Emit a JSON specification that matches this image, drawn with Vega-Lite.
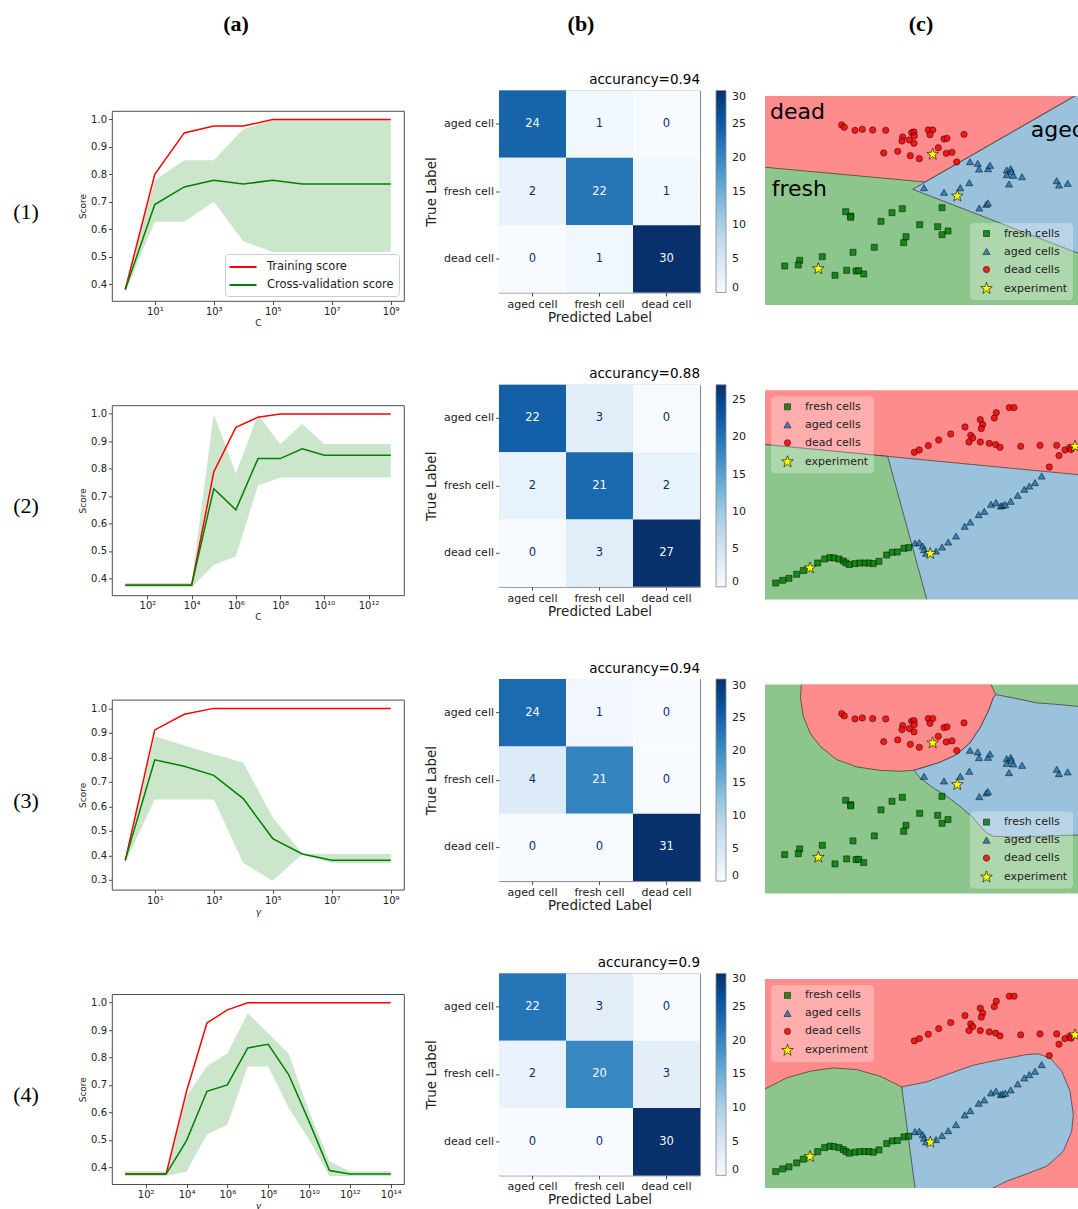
{
  "$schema": "https://vega.github.io/schema/vega-lite/v6.json",
  "background": "white",
  "padding": {"left": 12, "top": 12, "right": 0, "bottom": 0},
  "spacing": 18,
  "config": {
    "font": "DejaVu Sans",
    "view": {"stroke": null},
    "axis": {"grid": false, "domain": false, "tickSize": 3.5, "tickColor": "#222", "tickWidth": 0.8, "labelColor": "#222", "titleColor": "#222", "titleFontWeight": "normal", "labelFlush": false, "labelOverlap": false, "labelFont": "DejaVu Sans", "titleFont": "DejaVu Sans"},
    "title": {"color": "black", "fontWeight": "normal"}
  },
  "datasets": {
    "curve1": [
      {"x": 1, "train": 0.38, "cv": 0.38, "lo": 0.37, "hi": 0.39},
      {"x": 10, "train": 0.8, "cv": 0.69, "lo": 0.627, "hi": 0.778},
      {"x": 100, "train": 0.951, "cv": 0.754, "lo": 0.627, "hi": 0.851},
      {"x": 1000, "train": 0.976, "cv": 0.778, "lo": 0.7, "hi": 0.851},
      {"x": 10000, "train": 0.976, "cv": 0.765, "lo": 0.556, "hi": 0.965},
      {"x": 100000, "train": 1, "cv": 0.778, "lo": 0.517, "hi": 0.998},
      {"x": 1000000, "train": 1, "cv": 0.765, "lo": 0.517, "hi": 0.998},
      {"x": 10000000, "train": 1, "cv": 0.765, "lo": 0.517, "hi": 0.998},
      {"x": 100000000, "train": 1, "cv": 0.765, "lo": 0.517, "hi": 0.998},
      {"x": 1000000000, "train": 1, "cv": 0.765, "lo": 0.517, "hi": 0.998}
    ],
    "curve2": [
      {"x": 1e1, "train": 0.375, "cv": 0.375, "lo": 0.368, "hi": 0.383},
      {"x": 1e2, "train": 0.375, "cv": 0.375, "lo": 0.368, "hi": 0.383},
      {"x": 1e3, "train": 0.375, "cv": 0.375, "lo": 0.368, "hi": 0.383},
      {"x": 1e4, "train": 0.375, "cv": 0.375, "lo": 0.368, "hi": 0.383},
      {"x": 1e5, "train": 0.788, "cv": 0.727, "lo": 0.449, "hi": 1.0},
      {"x": 1e6, "train": 0.951, "cv": 0.65, "lo": 0.48, "hi": 0.783},
      {"x": 1e7, "train": 0.988, "cv": 0.837, "lo": 0.739, "hi": 0.998},
      {"x": 1e8, "train": 1, "cv": 0.837, "lo": 0.768, "hi": 0.89},
      {"x": 1e9, "train": 1, "cv": 0.873, "lo": 0.768, "hi": 0.963},
      {"x": 1e10, "train": 1, "cv": 0.849, "lo": 0.768, "hi": 0.89},
      {"x": 1e11, "train": 1, "cv": 0.849, "lo": 0.768, "hi": 0.89},
      {"x": 1e12, "train": 1, "cv": 0.849, "lo": 0.768, "hi": 0.89},
      {"x": 1e13, "train": 1, "cv": 0.849, "lo": 0.768, "hi": 0.89}
    ],
    "curve3": [
      {"x": 1, "train": 0.38, "cv": 0.381, "lo": 0.37, "hi": 0.39},
      {"x": 10, "train": 0.912, "cv": 0.79, "lo": 0.628, "hi": 0.886},
      {"x": 100, "train": 0.976, "cv": 0.764, "lo": 0.628, "hi": 0.849},
      {"x": 1000, "train": 1, "cv": 0.727, "lo": 0.628, "hi": 0.813},
      {"x": 10000, "train": 1, "cv": 0.632, "lo": 0.369, "hi": 0.779},
      {"x": 100000, "train": 1, "cv": 0.469, "lo": 0.297, "hi": 0.555},
      {"x": 1000000, "train": 1, "cv": 0.406, "lo": 0.404, "hi": 0.408},
      {"x": 10000000, "train": 1, "cv": 0.381, "lo": 0.369, "hi": 0.406},
      {"x": 100000000, "train": 1, "cv": 0.381, "lo": 0.369, "hi": 0.406},
      {"x": 1000000000, "train": 1, "cv": 0.381, "lo": 0.369, "hi": 0.406}
    ],
    "curve4": [
      {"x": 1e1, "train": 0.375, "cv": 0.375, "lo": 0.368, "hi": 0.385},
      {"x": 1e2, "train": 0.375, "cv": 0.375, "lo": 0.368, "hi": 0.385},
      {"x": 1e3, "train": 0.375, "cv": 0.375, "lo": 0.368, "hi": 0.385},
      {"x": 1e4, "train": 0.677, "cv": 0.497, "lo": 0.383, "hi": 0.66},
      {"x": 1e5, "train": 0.926, "cv": 0.677, "lo": 0.519, "hi": 0.769},
      {"x": 1e6, "train": 0.974, "cv": 0.7, "lo": 0.555, "hi": 0.815},
      {"x": 1e7, "train": 1, "cv": 0.835, "lo": 0.767, "hi": 0.962},
      {"x": 1e8, "train": 1, "cv": 0.848, "lo": 0.767, "hi": 0.889},
      {"x": 1e9, "train": 1, "cv": 0.738, "lo": 0.616, "hi": 0.815},
      {"x": 1e10, "train": 1, "cv": 0.567, "lo": 0.501, "hi": 0.604},
      {"x": 1e11, "train": 1, "cv": 0.388, "lo": 0.368, "hi": 0.422},
      {"x": 1e12, "train": 1, "cv": 0.375, "lo": 0.368, "hi": 0.385},
      {"x": 1e13, "train": 1, "cv": 0.375, "lo": 0.368, "hi": 0.385},
      {"x": 1e14, "train": 1, "cv": 0.375, "lo": 0.368, "hi": 0.385}
    ],
    "cm1": [
      {"t": "aged cell", "p": "aged cell", "n": 24}, {"t": "aged cell", "p": "fresh cell", "n": 1}, {"t": "aged cell", "p": "dead cell", "n": 0},
      {"t": "fresh cell", "p": "aged cell", "n": 2}, {"t": "fresh cell", "p": "fresh cell", "n": 22}, {"t": "fresh cell", "p": "dead cell", "n": 1},
      {"t": "dead cell", "p": "aged cell", "n": 0}, {"t": "dead cell", "p": "fresh cell", "n": 1}, {"t": "dead cell", "p": "dead cell", "n": 30}
    ],
    "cm2": [
      {"t": "aged cell", "p": "aged cell", "n": 22}, {"t": "aged cell", "p": "fresh cell", "n": 3}, {"t": "aged cell", "p": "dead cell", "n": 0},
      {"t": "fresh cell", "p": "aged cell", "n": 2}, {"t": "fresh cell", "p": "fresh cell", "n": 21}, {"t": "fresh cell", "p": "dead cell", "n": 2},
      {"t": "dead cell", "p": "aged cell", "n": 0}, {"t": "dead cell", "p": "fresh cell", "n": 3}, {"t": "dead cell", "p": "dead cell", "n": 27}
    ],
    "cm3": [
      {"t": "aged cell", "p": "aged cell", "n": 24}, {"t": "aged cell", "p": "fresh cell", "n": 1}, {"t": "aged cell", "p": "dead cell", "n": 0},
      {"t": "fresh cell", "p": "aged cell", "n": 4}, {"t": "fresh cell", "p": "fresh cell", "n": 21}, {"t": "fresh cell", "p": "dead cell", "n": 0},
      {"t": "dead cell", "p": "aged cell", "n": 0}, {"t": "dead cell", "p": "fresh cell", "n": 0}, {"t": "dead cell", "p": "dead cell", "n": 31}
    ],
    "cm4": [
      {"t": "aged cell", "p": "aged cell", "n": 22}, {"t": "aged cell", "p": "fresh cell", "n": 3}, {"t": "aged cell", "p": "dead cell", "n": 0},
      {"t": "fresh cell", "p": "aged cell", "n": 2}, {"t": "fresh cell", "p": "fresh cell", "n": 20}, {"t": "fresh cell", "p": "dead cell", "n": 3},
      {"t": "dead cell", "p": "aged cell", "n": 0}, {"t": "dead cell", "p": "fresh cell", "n": 0}, {"t": "dead cell", "p": "dead cell", "n": 30}
    ],
    "ptsA": [
      {"pc1": 80.7, "pc2": 93.3, "cls": "fresh cells"}, {"pc1": 85.7, "pc2": 89, "cls": "fresh cells"}, {"pc1": 85.7, "pc2": 87.7, "cls": "fresh cells"},
      {"pc1": 116, "pc2": 83.7, "cls": "fresh cells"}, {"pc1": 127, "pc2": 92.3, "cls": "fresh cells"}, {"pc1": 137.3, "pc2": 96.3, "cls": "fresh cells"},
      {"pc1": 154.7, "pc2": 80.3, "cls": "fresh cells"}, {"pc1": 172.7, "pc2": 78.3, "cls": "fresh cells"}, {"pc1": 177, "pc2": 97.3, "cls": "fresh cells"},
      {"pc1": 183, "pc2": 74, "cls": "fresh cells"}, {"pc1": 177, "pc2": 70.3, "cls": "fresh cells"}, {"pc1": 141, "pc2": 68.3, "cls": "fresh cells"},
      {"pc1": 138.7, "pc2": 62.3, "cls": "fresh cells"}, {"pc1": 109.3, "pc2": 57.7, "cls": "fresh cells"}, {"pc1": 88, "pc2": 52.7, "cls": "fresh cells"},
      {"pc1": 57.3, "pc2": 48.3, "cls": "fresh cells"}, {"pc1": 34.7, "pc2": 44.7, "cls": "fresh cells"}, {"pc1": 33.3, "pc2": 40, "cls": "fresh cells"},
      {"pc1": 19.7, "pc2": 39, "cls": "fresh cells"}, {"pc1": 70, "pc2": 29.7, "cls": "fresh cells"}, {"pc1": 81.7, "pc2": 34.7, "cls": "fresh cells"},
      {"pc1": 91, "pc2": 34, "cls": "fresh cells"}, {"pc1": 93.7, "pc2": 34.3, "cls": "fresh cells"}, {"pc1": 98.7, "pc2": 31, "cls": "fresh cells"},
      {"pc1": 205, "pc2": 143.3, "cls": "aged cells"}, {"pc1": 212.7, "pc2": 141.7, "cls": "aged cells"}, {"pc1": 214, "pc2": 136, "cls": "aged cells"},
      {"pc1": 223, "pc2": 136.3, "cls": "aged cells"}, {"pc1": 225, "pc2": 139.7, "cls": "aged cells"}, {"pc1": 241.7, "pc2": 135, "cls": "aged cells"},
      {"pc1": 245.7, "pc2": 136.3, "cls": "aged cells"}, {"pc1": 241.7, "pc2": 130.3, "cls": "aged cells"}, {"pc1": 246.3, "pc2": 133.3, "cls": "aged cells"},
      {"pc1": 248.3, "pc2": 129.7, "cls": "aged cells"}, {"pc1": 257, "pc2": 128.3, "cls": "aged cells"}, {"pc1": 244, "pc2": 121, "cls": "aged cells"},
      {"pc1": 204.3, "pc2": 122.3, "cls": "aged cells"}, {"pc1": 195.3, "pc2": 117.3, "cls": "aged cells"}, {"pc1": 179, "pc2": 112.7, "cls": "aged cells"},
      {"pc1": 159, "pc2": 117.3, "cls": "aged cells"}, {"pc1": 214.3, "pc2": 97, "cls": "aged cells"}, {"pc1": 221.3, "pc2": 100.7, "cls": "aged cells"},
      {"pc1": 223, "pc2": 102, "cls": "aged cells"}, {"pc1": 291.7, "pc2": 124.3, "cls": "aged cells"}, {"pc1": 294, "pc2": 120, "cls": "aged cells"},
      {"pc1": 302.7, "pc2": 121.7, "cls": "aged cells"},
      {"pc1": 76.7, "pc2": 180, "cls": "dead cells"}, {"pc1": 79.3, "pc2": 177.7, "cls": "dead cells"}, {"pc1": 90, "pc2": 174.7, "cls": "dead cells"},
      {"pc1": 97.3, "pc2": 175.7, "cls": "dead cells"}, {"pc1": 107.7, "pc2": 175, "cls": "dead cells"}, {"pc1": 120.7, "pc2": 174.7, "cls": "dead cells"},
      {"pc1": 137.7, "pc2": 168, "cls": "dead cells"}, {"pc1": 137, "pc2": 164, "cls": "dead cells"}, {"pc1": 144.3, "pc2": 165, "cls": "dead cells"},
      {"pc1": 149, "pc2": 161.7, "cls": "dead cells"}, {"pc1": 146.7, "pc2": 172.3, "cls": "dead cells"}, {"pc1": 149, "pc2": 173, "cls": "dead cells"},
      {"pc1": 149.3, "pc2": 169, "cls": "dead cells"}, {"pc1": 163.3, "pc2": 175, "cls": "dead cells"}, {"pc1": 167.7, "pc2": 175, "cls": "dead cells"},
      {"pc1": 165, "pc2": 170.3, "cls": "dead cells"}, {"pc1": 179, "pc2": 166, "cls": "dead cells"}, {"pc1": 182, "pc2": 166.7, "cls": "dead cells"},
      {"pc1": 199, "pc2": 170.7, "cls": "dead cells"}, {"pc1": 173.3, "pc2": 157.3, "cls": "dead cells"}, {"pc1": 181.3, "pc2": 151.7, "cls": "dead cells"},
      {"pc1": 187, "pc2": 152.7, "cls": "dead cells"}, {"pc1": 191.7, "pc2": 143, "cls": "dead cells"}, {"pc1": 118.7, "pc2": 152, "cls": "dead cells"},
      {"pc1": 132.7, "pc2": 153.7, "cls": "dead cells"}, {"pc1": 145.3, "pc2": 149.3, "cls": "dead cells"}, {"pc1": 154.3, "pc2": 146.3, "cls": "dead cells"},
      {"pc1": 167.7, "pc2": 150.7, "cls": "experiment"}, {"pc1": 192.3, "pc2": 109, "cls": "experiment"}, {"pc1": 53.3, "pc2": 36.3, "cls": "experiment"}
    ],
    "ptsB": [
      {"pc1": 10.7, "pc2": 16.3, "cls": "fresh cells"}, {"pc1": 17.7, "pc2": 19, "cls": "fresh cells"}, {"pc1": 24, "pc2": 21, "cls": "fresh cells"},
      {"pc1": 31.7, "pc2": 25, "cls": "fresh cells"}, {"pc1": 38.3, "pc2": 28.7, "cls": "fresh cells"}, {"pc1": 52.7, "pc2": 36.3, "cls": "fresh cells"},
      {"pc1": 59.7, "pc2": 40.3, "cls": "fresh cells"}, {"pc1": 65, "pc2": 41.7, "cls": "fresh cells"}, {"pc1": 69, "pc2": 41.3, "cls": "fresh cells"},
      {"pc1": 74, "pc2": 40.3, "cls": "fresh cells"}, {"pc1": 78.3, "pc2": 38.3, "cls": "fresh cells"}, {"pc1": 81, "pc2": 36.3, "cls": "fresh cells"},
      {"pc1": 84.3, "pc2": 34.7, "cls": "fresh cells"}, {"pc1": 90, "pc2": 35.7, "cls": "fresh cells"}, {"pc1": 95, "pc2": 36.3, "cls": "fresh cells"},
      {"pc1": 100, "pc2": 36.3, "cls": "fresh cells"}, {"pc1": 104, "pc2": 36.3, "cls": "fresh cells"}, {"pc1": 108.3, "pc2": 35.7, "cls": "fresh cells"},
      {"pc1": 114, "pc2": 38, "cls": "fresh cells"}, {"pc1": 121.7, "pc2": 44.3, "cls": "fresh cells"}, {"pc1": 127.3, "pc2": 47, "cls": "fresh cells"},
      {"pc1": 132.3, "pc2": 47.3, "cls": "fresh cells"}, {"pc1": 139, "pc2": 51, "cls": "fresh cells"}, {"pc1": 143.7, "pc2": 51.7, "cls": "fresh cells"},
      {"pc1": 150, "pc2": 56.3, "cls": "aged cells"}, {"pc1": 154.3, "pc2": 56.7, "cls": "aged cells"}, {"pc1": 157.7, "pc2": 53.3, "cls": "aged cells"},
      {"pc1": 159, "pc2": 49.7, "cls": "aged cells"}, {"pc1": 161, "pc2": 46, "cls": "aged cells"}, {"pc1": 171, "pc2": 48.3, "cls": "aged cells"},
      {"pc1": 177, "pc2": 52.3, "cls": "aged cells"}, {"pc1": 183.3, "pc2": 57.3, "cls": "aged cells"}, {"pc1": 191, "pc2": 63.3, "cls": "aged cells"},
      {"pc1": 199.7, "pc2": 73, "cls": "aged cells"}, {"pc1": 205.3, "pc2": 77.3, "cls": "aged cells"}, {"pc1": 213.7, "pc2": 84.7, "cls": "aged cells"},
      {"pc1": 219.3, "pc2": 88, "cls": "aged cells"}, {"pc1": 226, "pc2": 95, "cls": "aged cells"}, {"pc1": 231, "pc2": 96.7, "cls": "aged cells"},
      {"pc1": 235.7, "pc2": 93.3, "cls": "aged cells"}, {"pc1": 237.7, "pc2": 94, "cls": "aged cells"}, {"pc1": 240.3, "pc2": 94.7, "cls": "aged cells"},
      {"pc1": 245.7, "pc2": 98, "cls": "aged cells"}, {"pc1": 252.7, "pc2": 104, "cls": "aged cells"}, {"pc1": 259.3, "pc2": 110, "cls": "aged cells"},
      {"pc1": 264.3, "pc2": 113.3, "cls": "aged cells"}, {"pc1": 270, "pc2": 116.7, "cls": "aged cells"}, {"pc1": 276.7, "pc2": 123.3, "cls": "aged cells"},
      {"pc1": 149.3, "pc2": 147, "cls": "dead cells"}, {"pc1": 154.3, "pc2": 149.3, "cls": "dead cells"}, {"pc1": 163.3, "pc2": 153.7, "cls": "dead cells"},
      {"pc1": 173.7, "pc2": 159.3, "cls": "dead cells"}, {"pc1": 185.7, "pc2": 165.3, "cls": "dead cells"}, {"pc1": 200, "pc2": 172.3, "cls": "dead cells"},
      {"pc1": 205.7, "pc2": 164, "cls": "dead cells"}, {"pc1": 207.7, "pc2": 161.3, "cls": "dead cells"}, {"pc1": 204, "pc2": 157.3, "cls": "dead cells"},
      {"pc1": 215.3, "pc2": 179.7, "cls": "dead cells"}, {"pc1": 217.7, "pc2": 174.7, "cls": "dead cells"}, {"pc1": 216.3, "pc2": 170.7, "cls": "dead cells"},
      {"pc1": 215.3, "pc2": 157.3, "cls": "dead cells"}, {"pc1": 224.3, "pc2": 156, "cls": "dead cells"}, {"pc1": 229.3, "pc2": 181.3, "cls": "dead cells"},
      {"pc1": 231.3, "pc2": 186.7, "cls": "dead cells"}, {"pc1": 230.7, "pc2": 154.7, "cls": "dead cells"}, {"pc1": 235, "pc2": 152, "cls": "dead cells"},
      {"pc1": 244.3, "pc2": 191.7, "cls": "dead cells"}, {"pc1": 249, "pc2": 191.7, "cls": "dead cells"}, {"pc1": 255.7, "pc2": 153, "cls": "dead cells"},
      {"pc1": 275, "pc2": 154, "cls": "dead cells"}, {"pc1": 291.7, "pc2": 154, "cls": "dead cells"}, {"pc1": 294, "pc2": 143.7, "cls": "dead cells"},
      {"pc1": 300, "pc2": 149.3, "cls": "dead cells"}, {"pc1": 304.7, "pc2": 151.7, "cls": "dead cells"}, {"pc1": 306, "pc2": 149.7, "cls": "dead cells"},
      {"pc1": 284.3, "pc2": 132.3, "cls": "dead cells"},
      {"pc1": 310, "pc2": 153, "cls": "experiment"}, {"pc1": 165.3, "pc2": 45.7, "cls": "experiment"}, {"pc1": 45, "pc2": 31.3, "cls": "experiment"}
    ],
    "r1g": [{"pc1": -5, "lo": -5, "hi": 138.2}, {"pc1": 160, "lo": -5, "hi": 123}, {"pc1": 320.4, "lo": -5, "hi": 215}, {"pc1": 325, "lo": -5, "hi": 215}],
    "r1b": [{"pc1": 147.7, "lo": 115.7, "hi": 115.7}, {"pc1": 325, "lo": 47.2, "hi": 217.6}],
    "r2b": [{"pc1": -5, "lo": -5, "hi": 155.2}, {"pc1": 325, "lo": -5, "hi": 123.5}],
    "r2g": [{"pc1": -5, "lo": -5, "hi": 155.2}, {"pc1": 122.7, "lo": -5, "hi": 142.9}, {"pc1": 163.1, "lo": -5, "hi": -5}],
    "r3r": [
      {"pc1": 35.5, "lo": 196, "hi": 197}, {"pc1": 36.7, "lo": 187, "hi": 215}, {"pc1": 38.3, "lo": 177.3, "hi": 215}, {"pc1": 45, "lo": 160.7, "hi": 215},
      {"pc1": 55, "lo": 147.3, "hi": 215}, {"pc1": 71.7, "lo": 134, "hi": 215}, {"pc1": 91.7, "lo": 126.7, "hi": 215}, {"pc1": 115, "lo": 123.3, "hi": 215},
      {"pc1": 135, "lo": 122.3, "hi": 215}, {"pc1": 149, "lo": 123.3, "hi": 215}, {"pc1": 175, "lo": 131.3, "hi": 215}, {"pc1": 191.7, "lo": 139, "hi": 215},
      {"pc1": 205, "lo": 150.7, "hi": 215}, {"pc1": 215, "lo": 165.7, "hi": 215}, {"pc1": 223.3, "lo": 182.3, "hi": 214.7}, {"pc1": 226, "lo": 189.5, "hi": 209},
      {"pc1": 228.3, "lo": 195.7, "hi": 204.1}, {"pc1": 230.7, "lo": 199, "hi": 199}
    ],
    "r3b": [
      {"pc1": 149, "lo": 123.3, "hi": 123.3}, {"pc1": 155, "lo": 115.7, "hi": 125.1}, {"pc1": 168.3, "lo": 105.7, "hi": 129.2}, {"pc1": 175, "lo": 101.5, "hi": 131.3},
      {"pc1": 181.7, "lo": 97.3, "hi": 134.4}, {"pc1": 191.7, "lo": 89.8, "hi": 139}, {"pc1": 195, "lo": 87.3, "hi": 141.9}, {"pc1": 205, "lo": 78.6, "hi": 150.7},
      {"pc1": 208.3, "lo": 75.7, "hi": 155.6}, {"pc1": 215, "lo": 67.3, "hi": 165.7}, {"pc1": 221.7, "lo": 60.7, "hi": 179}, {"pc1": 223.3, "lo": 59.9, "hi": 182.3},
      {"pc1": 228.3, "lo": 57.3, "hi": 195.7}, {"pc1": 230.7, "lo": 57.2, "hi": 199}, {"pc1": 248.3, "lo": 56.7, "hi": 195.7}, {"pc1": 271.7, "lo": 57, "hi": 190.7},
      {"pc1": 295, "lo": 58, "hi": 189}, {"pc1": 325, "lo": 59, "hi": 186}
    ],
    "r4b": [
      {"pc1": 136.7, "lo": -5, "hi": 101}, {"pc1": 161.7, "lo": -5, "hi": 106}, {"pc1": 181.7, "lo": -5, "hi": 113.3}, {"pc1": 208.3, "lo": -5, "hi": 122.7},
      {"pc1": 218.3, "lo": -5, "hi": 124.8}, {"pc1": 235, "lo": 3.4, "hi": 128.3}, {"pc1": 241.7, "lo": 6.7, "hi": 129.6}, {"pc1": 261.7, "lo": 14, "hi": 133.3},
      {"pc1": 273.3, "lo": 18.5, "hi": 134}, {"pc1": 281.7, "lo": 21.7, "hi": 131.1}, {"pc1": 285, "lo": 24.7, "hi": 130}, {"pc1": 296.7, "lo": 35.2, "hi": 116.7},
      {"pc1": 298.3, "lo": 36.7, "hi": 112.8}, {"pc1": 305, "lo": 52.6, "hi": 96.7}, {"pc1": 306.7, "lo": 56.7, "hi": 84.6}, {"pc1": 308.3, "lo": 73.3, "hi": 73.3}
    ],
    "r4g": [
      {"pc1": -5, "lo": -5, "hi": 96.5}, {"pc1": 21.7, "lo": -5, "hi": 110}, {"pc1": 45, "lo": -5, "hi": 116.7}, {"pc1": 68.3, "lo": -5, "hi": 120},
      {"pc1": 91.7, "lo": -5, "hi": 118.3}, {"pc1": 115, "lo": -5, "hi": 111.7}, {"pc1": 136.7, "lo": -5, "hi": 101}, {"pc1": 150.7, "lo": -5, "hi": -5}
    ],
    "words1": [
      {"pc1": 5, "pc2": 185.7, "word": "dead"}, {"pc1": 6.7, "pc2": 109, "word": "fresh"}, {"pc1": 265.7, "pc2": 168.3, "word": "aged"}
    ]
  },
  "hconcat": [
    {
      "spacing": 74,
      "vconcat": [
        {"width": 248, "height": 24, "data": {"values": [{"h": "(a)"}]}, "mark": {"type": "text", "font": "Liberation Serif", "fontSize": 22, "fontWeight": "bold", "color": "black"}, "encoding": {"text": {"field": "h"}}},
        {
          "bounds": "flush",
          "spacing": 104.4,
          "resolve": {"scale": {"color": "independent"}, "legend": {"color": "independent"}},
          "vconcat": [
            {
              "width": 292, "height": 190,
              "title": {"text": "(1)", "orient": "left", "angle": 0, "frame": "group", "anchor": "middle", "align": "right", "baseline": "middle", "offset": 14, "dy": 6, "font": "Liberation Serif", "fontSize": 22, "fontWeight": "normal", "color": "black"},
              "data": {"name": "curve1"},
              "view": {"stroke": "#222", "strokeWidth": 0.8},
              "encoding": {"x": {"field": "x", "type": "quantitative", "scale": {"type": "log", "domain": [0.35481, 2818382931], "nice": false}, "axis": {"values": [10, 1000, 100000, 10000000, 1000000000], "labelExpr": "'10' + (round(log(datum.value)/LN10) >= 10 ? '¹' : '') + substring('⁰¹²³⁴⁵⁶⁷⁸⁹', round(log(datum.value)/LN10) % 10, round(log(datum.value)/LN10) % 10 + 1)", "title": "C", "labelFontSize": 10, "titleFontSize": 9, "labelPadding": 2, "titlePadding": 2, "labelOverlap": false}}},
              "layer": [
                {"mark": {"type": "area", "color": "#008000", "opacity": 0.2, "clip": true}, "encoding": {"y": {"field": "lo", "type": "quantitative", "scale": {"domain": [0.338, 1.031], "nice": false, "zero": false}, "axis": {"values": [0.4, 0.5, 0.6, 0.7, 0.8, 0.9, 1.0], "format": ".1f", "title": "Score", "labelFontSize": 10, "titleFontSize": 9, "labelPadding": 2, "titlePadding": 3, "labelOverlap": false}}, "y2": {"field": "hi"}}},
                {"transform": [{"fold": ["train", "cv"], "as": ["series", "score"]}], "mark": {"type": "line", "strokeWidth": 1.5, "clip": true}, "encoding": {"y": {"field": "score", "type": "quantitative", "scale": {"domain": [0.338, 1.031], "nice": false, "zero": false}, "axis": {"values": [0.4, 0.5, 0.6, 0.7, 0.8, 0.9, 1.0], "format": ".1f", "title": "Score", "labelFontSize": 10, "titleFontSize": 9, "labelPadding": 2, "titlePadding": 3, "labelOverlap": false}}, "color": {"field": "series", "type": "nominal", "scale": {"domain": ["train", "cv"], "range": ["#ff0000", "#008000"]}, "legend": {"title": null, "orient": "bottom-right", "offset": 5, "padding": 5, "fillColor": "rgba(255,255,255,0.85)", "strokeColor": "#cccccc", "cornerRadius": 3, "symbolType": "M-2,0L2,0", "symbolSize": 182, "symbolStrokeWidth": 2, "symbolOffset": 5, "labelFontSize": 11.5, "labelOffset": 16, "rowPadding": 4, "labelColor": "#222", "labelExpr": "datum.label == 'train' ? 'Training score' : 'Cross-validation score'"}}}}
              ]
            },
            {
              "width": 292, "height": 190,
              "title": {"text": "(2)", "orient": "left", "angle": 0, "frame": "group", "anchor": "middle", "align": "right", "baseline": "middle", "offset": 14, "dy": 6, "font": "Liberation Serif", "fontSize": 22, "fontWeight": "normal", "color": "black"},
              "data": {"name": "curve2"},
              "view": {"stroke": "#222", "strokeWidth": 0.8},
              "encoding": {"x": {"field": "x", "type": "quantitative", "scale": {"type": "log", "domain": [2.51189, 3.98107e13], "nice": false}, "axis": {"values": [1e2, 1e4, 1e6, 1e8, 1e10, 1e12], "labelExpr": "'10' + (round(log(datum.value)/LN10) >= 10 ? '¹' : '') + substring('⁰¹²³⁴⁵⁶⁷⁸⁹', round(log(datum.value)/LN10) % 10, round(log(datum.value)/LN10) % 10 + 1)", "title": "C", "labelFontSize": 10, "titleFontSize": 9, "labelPadding": 2, "titlePadding": 2, "labelOverlap": false}}},
              "layer": [
                {"mark": {"type": "area", "color": "#008000", "opacity": 0.2, "clip": true}, "encoding": {"y": {"field": "lo", "type": "quantitative", "scale": {"domain": [0.338, 1.031], "nice": false, "zero": false}, "axis": {"values": [0.4, 0.5, 0.6, 0.7, 0.8, 0.9, 1.0], "format": ".1f", "title": "Score", "labelFontSize": 10, "titleFontSize": 9, "labelPadding": 2, "titlePadding": 3, "labelOverlap": false}}, "y2": {"field": "hi"}}},
                {"transform": [{"fold": ["train", "cv"], "as": ["series", "score"]}], "mark": {"type": "line", "strokeWidth": 1.5, "clip": true}, "encoding": {"y": {"field": "score", "type": "quantitative", "scale": {"domain": [0.338, 1.031], "nice": false, "zero": false}, "axis": {"values": [0.4, 0.5, 0.6, 0.7, 0.8, 0.9, 1.0], "format": ".1f", "title": "Score", "labelFontSize": 10, "titleFontSize": 9, "labelPadding": 2, "titlePadding": 3, "labelOverlap": false}}, "color": {"field": "series", "type": "nominal", "scale": {"domain": ["train", "cv"], "range": ["#ff0000", "#008000"]}, "legend": null}}}
              ]
            },
            {
              "width": 292, "height": 190,
              "title": {"text": "(3)", "orient": "left", "angle": 0, "frame": "group", "anchor": "middle", "align": "right", "baseline": "middle", "offset": 14, "dy": 6, "font": "Liberation Serif", "fontSize": 22, "fontWeight": "normal", "color": "black"},
              "data": {"name": "curve3"},
              "view": {"stroke": "#222", "strokeWidth": 0.8},
              "encoding": {"x": {"field": "x", "type": "quantitative", "scale": {"type": "log", "domain": [0.35481, 2818382931], "nice": false}, "axis": {"values": [10, 1000, 100000, 10000000, 1000000000], "labelExpr": "'10' + (round(log(datum.value)/LN10) >= 10 ? '¹' : '') + substring('⁰¹²³⁴⁵⁶⁷⁸⁹', round(log(datum.value)/LN10) % 10, round(log(datum.value)/LN10) % 10 + 1)", "title": "γ", "titleFontStyle": "italic", "labelFontSize": 10, "titleFontSize": 9, "labelPadding": 2, "titlePadding": 2, "labelOverlap": false}}},
              "layer": [
                {"mark": {"type": "area", "color": "#008000", "opacity": 0.2, "clip": true}, "encoding": {"y": {"field": "lo", "type": "quantitative", "scale": {"domain": [0.26, 1.035], "nice": false, "zero": false}, "axis": {"values": [0.3, 0.4, 0.5, 0.6, 0.7, 0.8, 0.9, 1.0], "format": ".1f", "title": "Score", "labelFontSize": 10, "titleFontSize": 9, "labelPadding": 2, "titlePadding": 3, "labelOverlap": false}}, "y2": {"field": "hi"}}},
                {"transform": [{"fold": ["train", "cv"], "as": ["series", "score"]}], "mark": {"type": "line", "strokeWidth": 1.5, "clip": true}, "encoding": {"y": {"field": "score", "type": "quantitative", "scale": {"domain": [0.26, 1.035], "nice": false, "zero": false}, "axis": {"values": [0.3, 0.4, 0.5, 0.6, 0.7, 0.8, 0.9, 1.0], "format": ".1f", "title": "Score", "labelFontSize": 10, "titleFontSize": 9, "labelPadding": 2, "titlePadding": 3, "labelOverlap": false}}, "color": {"field": "series", "type": "nominal", "scale": {"domain": ["train", "cv"], "range": ["#ff0000", "#008000"]}, "legend": null}}}
              ]
            },
            {
              "width": 292, "height": 190,
              "title": {"text": "(4)", "orient": "left", "angle": 0, "frame": "group", "anchor": "middle", "align": "right", "baseline": "middle", "offset": 14, "dy": 6, "font": "Liberation Serif", "fontSize": 22, "fontWeight": "normal", "color": "black"},
              "data": {"name": "curve4"},
              "view": {"stroke": "#222", "strokeWidth": 0.8},
              "encoding": {"x": {"field": "x", "type": "quantitative", "scale": {"type": "log", "domain": [2.23872, 4.46684e14], "nice": false}, "axis": {"values": [1e2, 1e4, 1e6, 1e8, 1e10, 1e12, 1e14], "labelExpr": "'10' + (round(log(datum.value)/LN10) >= 10 ? '¹' : '') + substring('⁰¹²³⁴⁵⁶⁷⁸⁹', round(log(datum.value)/LN10) % 10, round(log(datum.value)/LN10) % 10 + 1)", "title": "γ", "titleFontStyle": "italic", "labelFontSize": 10, "titleFontSize": 9, "labelPadding": 2, "titlePadding": 2, "labelOverlap": false}}},
              "layer": [
                {"mark": {"type": "area", "color": "#008000", "opacity": 0.2, "clip": true}, "encoding": {"y": {"field": "lo", "type": "quantitative", "scale": {"domain": [0.338, 1.031], "nice": false, "zero": false}, "axis": {"values": [0.4, 0.5, 0.6, 0.7, 0.8, 0.9, 1.0], "format": ".1f", "title": "Score", "labelFontSize": 10, "titleFontSize": 9, "labelPadding": 2, "titlePadding": 3, "labelOverlap": false}}, "y2": {"field": "hi"}}},
                {"transform": [{"fold": ["train", "cv"], "as": ["series", "score"]}], "mark": {"type": "line", "strokeWidth": 1.5, "clip": true}, "encoding": {"y": {"field": "score", "type": "quantitative", "scale": {"domain": [0.338, 1.031], "nice": false, "zero": false}, "axis": {"values": [0.4, 0.5, 0.6, 0.7, 0.8, 0.9, 1.0], "format": ".1f", "title": "Score", "labelFontSize": 10, "titleFontSize": 9, "labelPadding": 2, "titlePadding": 3, "labelOverlap": false}}, "color": {"field": "series", "type": "nominal", "scale": {"domain": ["train", "cv"], "range": ["#ff0000", "#008000"]}, "legend": null}}}
              ]
            }
          ]
        }
      ]
    },
    {
      "spacing": 36.5,
      "vconcat": [
        {"width": 164, "height": 24, "data": {"values": [{"h": "(b)"}]}, "mark": {"type": "text", "font": "Liberation Serif", "fontSize": 22, "fontWeight": "bold", "color": "black"}, "encoding": {"text": {"field": "h"}}},
        {
          "bounds": "flush",
          "spacing": 92.3,
          "resolve": {"scale": {"color": "independent"}, "legend": {"color": "independent"}},
          "vconcat": [
            {
              "width": 201, "height": 202,
              "title": {"text": "accurancy=0.94", "anchor": "end", "frame": "group", "fontSize": 13.5, "fontWeight": "normal", "offset": 4, "color": "black"},
              "data": {"name": "cm1"},
              "view": {"stroke": "#888", "strokeWidth": 1},
              "encoding": {
                "x": {"field": "p", "type": "nominal", "sort": ["aged cell", "fresh cell", "dead cell"], "scale": {"paddingInner": 0, "paddingOuter": 0}, "axis": {"labelAngle": 0, "title": "Predicted Label", "labelFontSize": 11, "titleFontSize": 13.5, "labelPadding": 2, "titlePadding": 1}},
                "y": {"field": "t", "type": "nominal", "sort": ["aged cell", "fresh cell", "dead cell"], "scale": {"paddingInner": 0, "paddingOuter": 0}, "axis": {"title": "True Label", "labelFontSize": 11, "titleFontSize": 13.5, "labelPadding": 2, "titlePadding": 5}}
              },
              "layer": [
                {"mark": {"type": "rect"}, "encoding": {"color": {"field": "n", "type": "quantitative", "scale": {"domain": [0, 3.75, 7.5, 11.25, 15, 18.75, 22.5, 26.25, 30], "range": ["#f7fbff", "#deebf7", "#c6dbef", "#9ecae1", "#6baed6", "#4292c6", "#2171b5", "#08519c", "#08306b"], "interpolate": "rgb"}, "legend": {"title": null, "orient": "right", "offset": 16, "padding": 0, "direction": "vertical", "gradientLength": 202, "gradientThickness": 10, "gradientStrokeColor": "#888", "gradientStrokeWidth": 0.8, "values": [0, 5, 10, 15, 20, 25, 30], "labelFontSize": 11, "labelOffset": 6, "labelBaseline": "middle", "labelOverlap": false, "labelColor": "#222"}}}},
                {"mark": {"type": "text", "fontSize": 11.5}, "encoding": {"text": {"field": "n", "type": "quantitative"}, "color": {"condition": {"test": "datum.n >= 15", "value": "#f7fbff"}, "value": "#08306b"}}}
              ]
            },
            {
              "width": 201, "height": 202,
              "title": {"text": "accurancy=0.88", "anchor": "end", "frame": "group", "fontSize": 13.5, "fontWeight": "normal", "offset": 4, "color": "black"},
              "data": {"name": "cm2"},
              "view": {"stroke": "#888", "strokeWidth": 1},
              "encoding": {
                "x": {"field": "p", "type": "nominal", "sort": ["aged cell", "fresh cell", "dead cell"], "scale": {"paddingInner": 0, "paddingOuter": 0}, "axis": {"labelAngle": 0, "title": "Predicted Label", "labelFontSize": 11, "titleFontSize": 13.5, "labelPadding": 2, "titlePadding": 1}},
                "y": {"field": "t", "type": "nominal", "sort": ["aged cell", "fresh cell", "dead cell"], "scale": {"paddingInner": 0, "paddingOuter": 0}, "axis": {"title": "True Label", "labelFontSize": 11, "titleFontSize": 13.5, "labelPadding": 2, "titlePadding": 5}}
              },
              "layer": [
                {"mark": {"type": "rect"}, "encoding": {"color": {"field": "n", "type": "quantitative", "scale": {"domain": [0, 3.375, 6.75, 10.125, 13.5, 16.875, 20.25, 23.625, 27], "range": ["#f7fbff", "#deebf7", "#c6dbef", "#9ecae1", "#6baed6", "#4292c6", "#2171b5", "#08519c", "#08306b"], "interpolate": "rgb"}, "legend": {"title": null, "orient": "right", "offset": 16, "padding": 0, "direction": "vertical", "gradientLength": 202, "gradientThickness": 10, "gradientStrokeColor": "#888", "gradientStrokeWidth": 0.8, "values": [0, 5, 10, 15, 20, 25], "labelFontSize": 11, "labelOffset": 6, "labelBaseline": "middle", "labelOverlap": false, "labelColor": "#222"}}}},
                {"mark": {"type": "text", "fontSize": 11.5}, "encoding": {"text": {"field": "n", "type": "quantitative"}, "color": {"condition": {"test": "datum.n >= 13.5", "value": "#f7fbff"}, "value": "#08306b"}}}
              ]
            },
            {
              "width": 201, "height": 202,
              "title": {"text": "accurancy=0.94", "anchor": "end", "frame": "group", "fontSize": 13.5, "fontWeight": "normal", "offset": 4, "color": "black"},
              "data": {"name": "cm3"},
              "view": {"stroke": "#888", "strokeWidth": 1},
              "encoding": {
                "x": {"field": "p", "type": "nominal", "sort": ["aged cell", "fresh cell", "dead cell"], "scale": {"paddingInner": 0, "paddingOuter": 0}, "axis": {"labelAngle": 0, "title": "Predicted Label", "labelFontSize": 11, "titleFontSize": 13.5, "labelPadding": 2, "titlePadding": 1}},
                "y": {"field": "t", "type": "nominal", "sort": ["aged cell", "fresh cell", "dead cell"], "scale": {"paddingInner": 0, "paddingOuter": 0}, "axis": {"title": "True Label", "labelFontSize": 11, "titleFontSize": 13.5, "labelPadding": 2, "titlePadding": 5}}
              },
              "layer": [
                {"mark": {"type": "rect"}, "encoding": {"color": {"field": "n", "type": "quantitative", "scale": {"domain": [0, 3.875, 7.75, 11.625, 15.5, 19.375, 23.25, 27.125, 31], "range": ["#f7fbff", "#deebf7", "#c6dbef", "#9ecae1", "#6baed6", "#4292c6", "#2171b5", "#08519c", "#08306b"], "interpolate": "rgb"}, "legend": {"title": null, "orient": "right", "offset": 16, "padding": 0, "direction": "vertical", "gradientLength": 202, "gradientThickness": 10, "gradientStrokeColor": "#888", "gradientStrokeWidth": 0.8, "values": [0, 5, 10, 15, 20, 25, 30], "labelFontSize": 11, "labelOffset": 6, "labelBaseline": "middle", "labelOverlap": false, "labelColor": "#222"}}}},
                {"mark": {"type": "text", "fontSize": 11.5}, "encoding": {"text": {"field": "n", "type": "quantitative"}, "color": {"condition": {"test": "datum.n >= 15.5", "value": "#f7fbff"}, "value": "#08306b"}}}
              ]
            },
            {
              "width": 201, "height": 202,
              "title": {"text": "accurancy=0.9", "anchor": "end", "frame": "group", "fontSize": 13.5, "fontWeight": "normal", "offset": 4, "color": "black"},
              "data": {"name": "cm4"},
              "view": {"stroke": "#888", "strokeWidth": 1},
              "encoding": {
                "x": {"field": "p", "type": "nominal", "sort": ["aged cell", "fresh cell", "dead cell"], "scale": {"paddingInner": 0, "paddingOuter": 0}, "axis": {"labelAngle": 0, "title": "Predicted Label", "labelFontSize": 11, "titleFontSize": 13.5, "labelPadding": 2, "titlePadding": 1}},
                "y": {"field": "t", "type": "nominal", "sort": ["aged cell", "fresh cell", "dead cell"], "scale": {"paddingInner": 0, "paddingOuter": 0}, "axis": {"title": "True Label", "labelFontSize": 11, "titleFontSize": 13.5, "labelPadding": 2, "titlePadding": 5}}
              },
              "layer": [
                {"mark": {"type": "rect"}, "encoding": {"color": {"field": "n", "type": "quantitative", "scale": {"domain": [0, 3.75, 7.5, 11.25, 15, 18.75, 22.5, 26.25, 30], "range": ["#f7fbff", "#deebf7", "#c6dbef", "#9ecae1", "#6baed6", "#4292c6", "#2171b5", "#08519c", "#08306b"], "interpolate": "rgb"}, "legend": {"title": null, "orient": "right", "offset": 16, "padding": 0, "direction": "vertical", "gradientLength": 202, "gradientThickness": 10, "gradientStrokeColor": "#888", "gradientStrokeWidth": 0.8, "values": [0, 5, 10, 15, 20, 25, 30], "labelFontSize": 11, "labelOffset": 6, "labelBaseline": "middle", "labelOverlap": false, "labelColor": "#222"}}}},
                {"mark": {"type": "text", "fontSize": 11.5}, "encoding": {"text": {"field": "n", "type": "quantitative"}, "color": {"condition": {"test": "datum.n >= 15", "value": "#f7fbff"}, "value": "#08306b"}}}
              ]
            }
          ]
        }
      ]
    },
    {
      "spacing": 60,
      "vconcat": [
        {"width": 312, "height": 24, "data": {"values": [{"h": "(c)"}]}, "mark": {"type": "text", "font": "Liberation Serif", "fontSize": 22, "fontWeight": "bold", "color": "black"}, "encoding": {"text": {"field": "h"}}},
        {
          "bounds": "flush",
          "spacing": 85.3,
          "resolve": {"scale": {"color": "independent", "shape": "independent", "size": "independent", "opacity": "independent"}, "legend": {"color": "independent", "shape": "independent", "size": "independent", "opacity": "independent"}},
          "vconcat": [
            {
              "width": 313, "height": 209,
              "view": {"fill": "#ff8c8c", "stroke": null},
              "layer": [
                {"data": {"name": "r1g"}, "mark": {"type": "area", "color": "#8cc68c", "stroke": "#333", "strokeWidth": 0.7, "clip": true}, "encoding": {"x": {"field": "pc1", "type": "quantitative", "scale": {"domain": [0, 313], "nice": false, "zero": false}, "axis": null}, "y": {"field": "lo", "type": "quantitative", "scale": {"domain": [0, 209], "nice": false, "zero": false}, "axis": null}, "y2": {"field": "hi"}}},
                {"data": {"name": "r1b"}, "mark": {"type": "area", "color": "#9bc2dd", "stroke": "#333", "strokeWidth": 0.7, "clip": true}, "encoding": {"x": {"field": "pc1", "type": "quantitative"}, "y": {"field": "lo", "type": "quantitative"}, "y2": {"field": "hi"}}},
                {"data": {"name": "ptsA"}, "mark": {"type": "point", "filled": true, "stroke": "black", "strokeWidth": 0.6, "clip": true}, "encoding": {
                  "x": {"field": "pc1", "type": "quantitative"}, "y": {"field": "pc2", "type": "quantitative"},
                  "shape": {"field": "cls", "type": "nominal", "scale": {"domain": ["fresh cells", "aged cells", "dead cells", "experiment"], "range": ["square", "triangle-up", "circle", "M0,-1L0.235,-0.324L0.951,-0.309L0.38,0.124L0.588,0.809L0,0.4L-0.588,0.809L-0.38,0.124L-0.951,-0.309L-0.235,-0.324Z"]}, "legend": {"title": null, "orient": "bottom-right", "offset": 5, "padding": 5, "fillColor": "rgba(255,255,255,0.3)", "cornerRadius": 4, "labelFontSize": 11, "labelColor": "#222", "rowPadding": 6, "symbolOffset": 5, "labelOffset": 11, "symbolStrokeColor": "black", "symbolStrokeWidth": 0.6}},
                  "color": {"field": "cls", "type": "nominal", "scale": {"domain": ["fresh cells", "aged cells", "dead cells", "experiment"], "range": ["#008000", "#1f77b4", "#ff0000", "#ffff00"]}, "legend": {"title": null, "orient": "bottom-right", "offset": 5, "padding": 5, "fillColor": "rgba(255,255,255,0.3)", "cornerRadius": 4, "labelFontSize": 11, "labelColor": "#222", "rowPadding": 6, "symbolOffset": 5, "labelOffset": 11, "symbolStrokeColor": "black", "symbolStrokeWidth": 0.6}},
                  "size": {"field": "cls", "type": "nominal", "scale": {"type": "ordinal", "domain": ["fresh cells", "aged cells", "dead cells", "experiment"], "range": [36, 50, 40, 150]}},
                  "opacity": {"field": "cls", "type": "nominal", "scale": {"type": "ordinal", "domain": ["fresh cells", "aged cells", "dead cells", "experiment"], "range": [0.85, 0.85, 0.85, 1]}}
                }},
                {"data": {"name": "words1"}, "mark": {"type": "text", "fontSize": 22, "align": "left", "baseline": "alphabetic", "color": "black", "clip": true}, "encoding": {"x": {"field": "pc1", "type": "quantitative"}, "y": {"field": "pc2", "type": "quantitative"}, "text": {"field": "word"}}}
              ]
            },
            {
              "width": 313, "height": 209,
              "view": {"fill": "#ff8c8c", "stroke": null},
              "layer": [
                {"data": {"name": "r2b"}, "mark": {"type": "area", "color": "#9bc2dd", "stroke": "#333", "strokeWidth": 0.7, "clip": true}, "encoding": {"x": {"field": "pc1", "type": "quantitative", "scale": {"domain": [0, 313], "nice": false, "zero": false}, "axis": null}, "y": {"field": "lo", "type": "quantitative", "scale": {"domain": [0, 209], "nice": false, "zero": false}, "axis": null}, "y2": {"field": "hi"}}},
                {"data": {"name": "r2g"}, "mark": {"type": "area", "color": "#8cc68c", "stroke": "#333", "strokeWidth": 0.7, "clip": true}, "encoding": {"x": {"field": "pc1", "type": "quantitative"}, "y": {"field": "lo", "type": "quantitative"}, "y2": {"field": "hi"}}},
                {"data": {"name": "ptsB"}, "mark": {"type": "point", "filled": true, "stroke": "black", "strokeWidth": 0.6, "clip": true}, "encoding": {
                  "x": {"field": "pc1", "type": "quantitative"}, "y": {"field": "pc2", "type": "quantitative"},
                  "shape": {"field": "cls", "type": "nominal", "scale": {"domain": ["fresh cells", "aged cells", "dead cells", "experiment"], "range": ["square", "triangle-up", "circle", "M0,-1L0.235,-0.324L0.951,-0.309L0.38,0.124L0.588,0.809L0,0.4L-0.588,0.809L-0.38,0.124L-0.951,-0.309L-0.235,-0.324Z"]}, "legend": {"title": null, "orient": "top-left", "offset": 6, "padding": 5, "fillColor": "rgba(255,255,255,0.3)", "cornerRadius": 4, "labelFontSize": 11, "labelColor": "#222", "rowPadding": 6, "symbolOffset": 5, "labelOffset": 11, "symbolStrokeColor": "black", "symbolStrokeWidth": 0.6}},
                  "color": {"field": "cls", "type": "nominal", "scale": {"domain": ["fresh cells", "aged cells", "dead cells", "experiment"], "range": ["#008000", "#1f77b4", "#ff0000", "#ffff00"]}, "legend": {"title": null, "orient": "top-left", "offset": 6, "padding": 5, "fillColor": "rgba(255,255,255,0.3)", "cornerRadius": 4, "labelFontSize": 11, "labelColor": "#222", "rowPadding": 6, "symbolOffset": 5, "labelOffset": 11, "symbolStrokeColor": "black", "symbolStrokeWidth": 0.6}},
                  "size": {"field": "cls", "type": "nominal", "scale": {"type": "ordinal", "domain": ["fresh cells", "aged cells", "dead cells", "experiment"], "range": [36, 50, 40, 150]}},
                  "opacity": {"field": "cls", "type": "nominal", "scale": {"type": "ordinal", "domain": ["fresh cells", "aged cells", "dead cells", "experiment"], "range": [0.85, 0.85, 0.85, 1]}}
                }}
              ]
            },
            {
              "width": 313, "height": 209,
              "view": {"fill": "#8cc68c", "stroke": null},
              "layer": [
                {"data": {"name": "r3r"}, "mark": {"type": "area", "color": "#ff8c8c", "stroke": "#333", "strokeWidth": 0.7, "clip": true}, "encoding": {"x": {"field": "pc1", "type": "quantitative", "scale": {"domain": [0, 313], "nice": false, "zero": false}, "axis": null}, "y": {"field": "lo", "type": "quantitative", "scale": {"domain": [0, 209], "nice": false, "zero": false}, "axis": null}, "y2": {"field": "hi"}}},
                {"data": {"name": "r3b"}, "mark": {"type": "area", "color": "#9bc2dd", "stroke": "#333", "strokeWidth": 0.7, "clip": true}, "encoding": {"x": {"field": "pc1", "type": "quantitative"}, "y": {"field": "lo", "type": "quantitative"}, "y2": {"field": "hi"}}},
                {"data": {"name": "ptsA"}, "mark": {"type": "point", "filled": true, "stroke": "black", "strokeWidth": 0.6, "clip": true}, "encoding": {
                  "x": {"field": "pc1", "type": "quantitative"}, "y": {"field": "pc2", "type": "quantitative"},
                  "shape": {"field": "cls", "type": "nominal", "scale": {"domain": ["fresh cells", "aged cells", "dead cells", "experiment"], "range": ["square", "triangle-up", "circle", "M0,-1L0.235,-0.324L0.951,-0.309L0.38,0.124L0.588,0.809L0,0.4L-0.588,0.809L-0.38,0.124L-0.951,-0.309L-0.235,-0.324Z"]}, "legend": {"title": null, "orient": "bottom-right", "offset": 5, "padding": 5, "fillColor": "rgba(255,255,255,0.3)", "cornerRadius": 4, "labelFontSize": 11, "labelColor": "#222", "rowPadding": 6, "symbolOffset": 5, "labelOffset": 11, "symbolStrokeColor": "black", "symbolStrokeWidth": 0.6}},
                  "color": {"field": "cls", "type": "nominal", "scale": {"domain": ["fresh cells", "aged cells", "dead cells", "experiment"], "range": ["#008000", "#1f77b4", "#ff0000", "#ffff00"]}, "legend": {"title": null, "orient": "bottom-right", "offset": 5, "padding": 5, "fillColor": "rgba(255,255,255,0.3)", "cornerRadius": 4, "labelFontSize": 11, "labelColor": "#222", "rowPadding": 6, "symbolOffset": 5, "labelOffset": 11, "symbolStrokeColor": "black", "symbolStrokeWidth": 0.6}},
                  "size": {"field": "cls", "type": "nominal", "scale": {"type": "ordinal", "domain": ["fresh cells", "aged cells", "dead cells", "experiment"], "range": [36, 50, 40, 150]}},
                  "opacity": {"field": "cls", "type": "nominal", "scale": {"type": "ordinal", "domain": ["fresh cells", "aged cells", "dead cells", "experiment"], "range": [0.85, 0.85, 0.85, 1]}}
                }}
              ]
            },
            {
              "width": 313, "height": 209,
              "view": {"fill": "#ff8c8c", "stroke": null},
              "layer": [
                {"data": {"name": "r4b"}, "mark": {"type": "area", "color": "#9bc2dd", "stroke": "#333", "strokeWidth": 0.7, "clip": true}, "encoding": {"x": {"field": "pc1", "type": "quantitative", "scale": {"domain": [0, 313], "nice": false, "zero": false}, "axis": null}, "y": {"field": "lo", "type": "quantitative", "scale": {"domain": [0, 209], "nice": false, "zero": false}, "axis": null}, "y2": {"field": "hi"}}},
                {"data": {"name": "r4g"}, "mark": {"type": "area", "color": "#8cc68c", "stroke": "#333", "strokeWidth": 0.7, "clip": true}, "encoding": {"x": {"field": "pc1", "type": "quantitative"}, "y": {"field": "lo", "type": "quantitative"}, "y2": {"field": "hi"}}},
                {"data": {"name": "ptsB"}, "mark": {"type": "point", "filled": true, "stroke": "black", "strokeWidth": 0.6, "clip": true}, "encoding": {
                  "x": {"field": "pc1", "type": "quantitative"}, "y": {"field": "pc2", "type": "quantitative"},
                  "shape": {"field": "cls", "type": "nominal", "scale": {"domain": ["fresh cells", "aged cells", "dead cells", "experiment"], "range": ["square", "triangle-up", "circle", "M0,-1L0.235,-0.324L0.951,-0.309L0.38,0.124L0.588,0.809L0,0.4L-0.588,0.809L-0.38,0.124L-0.951,-0.309L-0.235,-0.324Z"]}, "legend": {"title": null, "orient": "top-left", "offset": 6, "padding": 5, "fillColor": "rgba(255,255,255,0.3)", "cornerRadius": 4, "labelFontSize": 11, "labelColor": "#222", "rowPadding": 6, "symbolOffset": 5, "labelOffset": 11, "symbolStrokeColor": "black", "symbolStrokeWidth": 0.6}},
                  "color": {"field": "cls", "type": "nominal", "scale": {"domain": ["fresh cells", "aged cells", "dead cells", "experiment"], "range": ["#008000", "#1f77b4", "#ff0000", "#ffff00"]}, "legend": {"title": null, "orient": "top-left", "offset": 6, "padding": 5, "fillColor": "rgba(255,255,255,0.3)", "cornerRadius": 4, "labelFontSize": 11, "labelColor": "#222", "rowPadding": 6, "symbolOffset": 5, "labelOffset": 11, "symbolStrokeColor": "black", "symbolStrokeWidth": 0.6}},
                  "size": {"field": "cls", "type": "nominal", "scale": {"type": "ordinal", "domain": ["fresh cells", "aged cells", "dead cells", "experiment"], "range": [36, 50, 40, 150]}},
                  "opacity": {"field": "cls", "type": "nominal", "scale": {"type": "ordinal", "domain": ["fresh cells", "aged cells", "dead cells", "experiment"], "range": [0.85, 0.85, 0.85, 1]}}
                }}
              ]
            }
          ]
        }
      ]
    }
  ]
}
